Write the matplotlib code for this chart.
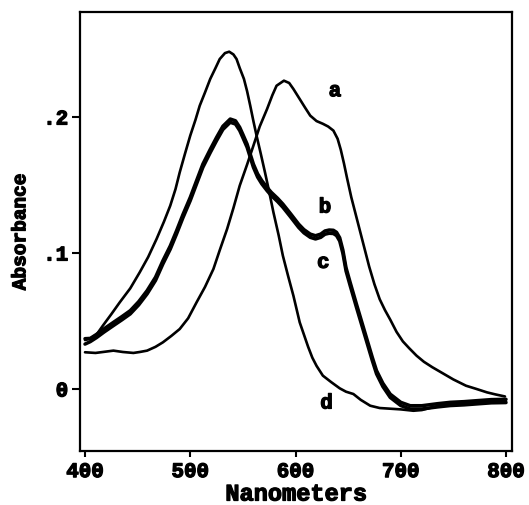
import matplotlib
matplotlib.use("Agg")
import matplotlib.pyplot as plt
import matplotlib.patheffects as pe

# Absorption spectra, wavelength (nm) vs absorbance
wl_a = [400, 410, 420, 427, 436, 446, 452, 459, 467, 474, 482, 490, 498, 506,
        514, 522, 528, 535, 541, 547, 554, 560, 566, 573, 578, 582, 589, 594,
        598, 604, 609, 614, 620, 626, 631, 636, 640, 643, 646, 649, 653, 658,
        664, 670, 675, 680, 685, 690, 696, 702, 708, 715, 722, 730, 740, 750,
        762, 772, 782, 790, 799]
abs_a = [0.027, 0.0265, 0.0275, 0.0282, 0.0272, 0.0265, 0.0272, 0.0282, 0.031,
         0.0343, 0.039, 0.0441, 0.052, 0.0637, 0.075, 0.0882, 0.102, 0.1176,
         0.133, 0.1495, 0.165, 0.1789, 0.193, 0.2059, 0.216, 0.223, 0.2267,
         0.225, 0.2206, 0.2132, 0.207, 0.201, 0.197, 0.195, 0.193, 0.190,
         0.184, 0.176, 0.166, 0.155, 0.141, 0.126, 0.108, 0.090, 0.077, 0.066,
         0.058, 0.051, 0.042, 0.035, 0.030, 0.0245, 0.020, 0.016, 0.0115,
         0.007, 0.0024, 0.000, -0.0025, -0.004, -0.0055]

wl_b = [400, 405, 411, 418, 427, 435, 443, 451, 459, 467, 474, 481, 487, 493,
        500, 506, 512, 519, 525, 531, 538, 543, 547, 550, 554, 560, 564, 568,
        573, 577, 583, 588, 595, 603, 608, 614, 619, 624, 628, 632, 636, 639,
        642, 645, 648, 652, 658, 663, 668, 673, 677, 683, 690, 700, 709, 720,
        735, 747, 760, 772, 786, 800]
abs_b = [0.037, 0.0372, 0.0402, 0.0442, 0.049, 0.0532, 0.0576, 0.0642, 0.0723,
         0.0822, 0.0943, 0.1052, 0.1164, 0.1282, 0.1409, 0.1532, 0.1654,
         0.1762, 0.185, 0.1932, 0.1985, 0.1972, 0.1924, 0.1872, 0.1801,
         0.1654, 0.1582, 0.1532, 0.1482, 0.1446, 0.1402, 0.136, 0.1292, 0.1212,
         0.1172, 0.1139, 0.1127, 0.1139, 0.1162, 0.1169, 0.1167, 0.1152,
         0.1112, 0.1022, 0.0892, 0.0782, 0.0622, 0.0492, 0.0362, 0.0232,
         0.0135, 0.0042, -0.0038, -0.0098, -0.0123, -0.0123, -0.0108, -0.0098,
         -0.0093, -0.0086, -0.0078, -0.0076]

wl_c = [400, 405, 411, 418, 427, 435, 443, 451, 459, 467, 474, 481, 487, 493,
        500, 506, 512, 519, 525, 531, 538, 543, 547, 550, 554, 560, 564, 568,
        573, 577, 583, 588, 595, 603, 608, 614, 619, 624, 628, 632, 636, 639,
        642, 645, 648, 652, 658, 663, 668, 673, 677, 683, 690, 700, 709, 720,
        735, 747, 760, 772, 786, 800]
abs_c = [0.033, 0.0348, 0.0378, 0.0418, 0.0466, 0.0508, 0.0552, 0.0618,
         0.0699, 0.0798, 0.0919, 0.1028, 0.114, 0.1258, 0.1385, 0.1508, 0.163,
         0.1738, 0.1826, 0.1908, 0.1961, 0.1948, 0.19, 0.1848, 0.1777, 0.163,
         0.1558, 0.1508, 0.1458, 0.1422, 0.1378, 0.1336, 0.1268, 0.1188,
         0.1148, 0.1115, 0.1103, 0.1115, 0.1138, 0.1145, 0.1143, 0.1128,
         0.1088, 0.0998, 0.0868, 0.0758, 0.0598, 0.0468, 0.0338, 0.0208,
         0.0111, 0.0018, -0.0062, -0.0122, -0.0147, -0.0147, -0.0132, -0.0122,
         -0.0117, -0.011, -0.0102, -0.01]

wl_d = [400, 405, 411, 417, 425, 433, 443, 452, 460, 468, 475, 481, 486, 490,
        495, 500, 505, 509, 514, 519, 524, 528, 533, 537, 541, 544, 547, 551,
        554, 557, 560, 563, 567, 571, 575, 579, 584, 588, 593, 598, 604, 608,
        612, 616, 620, 626, 634, 642, 648, 655, 662, 671, 680, 690, 700, 712,
        720, 735, 750, 765, 780, 800]
abs_d = [0.036, 0.037, 0.040, 0.0466, 0.055, 0.0637, 0.074, 0.0858, 0.097,
         0.1103, 0.123, 0.1348, 0.147, 0.1593, 0.173, 0.1863, 0.198, 0.2083,
         0.218, 0.228, 0.236, 0.2426, 0.247, 0.248, 0.246, 0.2426, 0.236,
         0.228, 0.219, 0.2083, 0.197, 0.1863, 0.173, 0.1593, 0.145, 0.130,
         0.113, 0.098, 0.083, 0.0686, 0.049, 0.040, 0.031, 0.023, 0.017,
         0.0098, 0.005, 0.0005, -0.002, -0.0037, -0.008, -0.0123, -0.014,
         -0.0145, -0.015, -0.016, -0.0155, -0.0125, -0.011, -0.0105, -0.0095,
         -0.009]

curve_labels = ["a", "b", "c", "d"]
label_pos = [(637.5, 0.2193), (628.0, 0.1338), (626.4, 0.0931), (629.5, -0.0103)]

x_ticks = [400, 500, 600, 700, 800]
x_ticklabels = ["400", "500", "600", "700", "800"]
y_ticks = [0.0, 0.1, 0.2]
y_ticklabels = ["0", ".1", ".2"]

font = "Liberation Mono"
heavy = [pe.withStroke(linewidth=0.9, foreground="black")]

fig = plt.figure(figsize=(5.29, 5.06), dpi=100)
ax = fig.add_axes([80 / 529, 1 - 452 / 506, 432 / 529, 439 / 506])

for wl, ab, lw in [(wl_a, abs_a, 1.9), (wl_b, abs_b, 2.5), (wl_c, abs_c, 2.5),
                   (wl_d, abs_d, 1.9)]:
    ax.plot(wl, ab, color="black", lw=lw, solid_joinstyle="round",
            solid_capstyle="round")

for lab, (x, y) in zip(curve_labels, label_pos):
    ax.text(x, y, lab, ha="center", va="center", fontsize=15,
            fontweight="bold", family=font, path_effects=heavy)

ax.set_xlim(395.25, 805.7)
ax.set_ylim(-0.0456, 0.2772)
ax.set_xticks(x_ticks)
ax.set_xticklabels(x_ticklabels)
ax.set_yticks(y_ticks)
ax.set_yticklabels(y_ticklabels)

for lbl in ax.get_xticklabels() + ax.get_yticklabels():
    lbl.set_family(font)
    lbl.set_fontweight("bold")
    lbl.set_fontsize(15)
    lbl.set_path_effects(heavy)

ax.tick_params(axis="x", direction="out", length=4, width=1.5, pad=4)
ax.tick_params(axis="y", direction="out", length=5.5, width=1.5, pad=3)
for s in ax.spines.values():
    s.set_linewidth(1.6)

ax.set_xlabel("Nanometers", family=font, fontweight="bold", fontsize=17,
              labelpad=1, path_effects=heavy)
ax.set_ylabel("Absorbance", family=font, fontweight="bold", fontsize=14,
              labelpad=10, path_effects=heavy)

fig.savefig("out.png", dpi=100)
